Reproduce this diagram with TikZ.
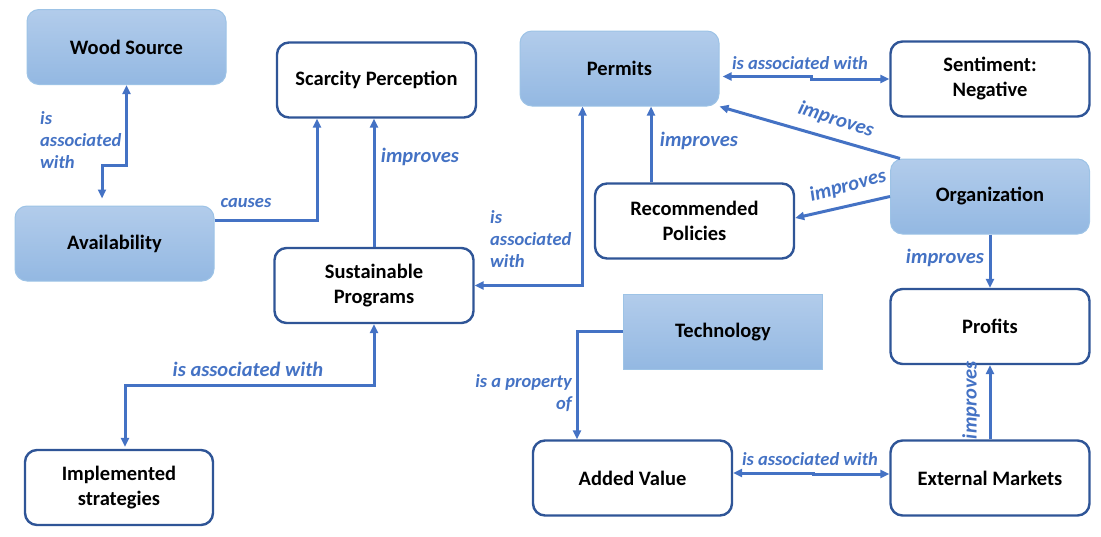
\documentclass[tikz,border=0pt]{standalone}
\usepackage{fontspec}
\setmainfont{Carlito}
\usetikzlibrary{arrows.meta,calc}
\definecolor{lineblue}{HTML}{4472C4}
\definecolor{boxborder}{HTML}{2F5597}
\definecolor{fillTop}{HTML}{B2CCEB}
\definecolor{fillBot}{HTML}{93B8E2}
\definecolor{fillborder}{HTML}{9DC3E6}
\begin{document}
\begin{tikzpicture}[x=1pt,y=-1pt,
 base/.style={minimum width=199pt, minimum height=75pt, align=center, font=\fontsize{20.5}{25}\selectfont\bfseries, inner sep=0pt},
 whitebox/.style={base, draw=boxborder, line width=2.4pt, rounded corners=12pt, fill=white},
 bluebox/.style={base, draw=fillborder, line width=1pt, rounded corners=12pt, top color=fillTop, bottom color=fillBot},
 conn/.style={draw=lineblue, line width=3pt, -{Triangle[length=9pt,width=8pt]}},
 biconn/.style={conn, {Triangle[length=9pt,width=8pt]}-{Triangle[length=9pt,width=8pt]}},
 lbl/.style={text=lineblue, font=\fontsize{18.5}{22}\selectfont\bfseries\itshape, inner sep=0pt},
 lblbig/.style={lbl, font=\fontsize{20.5}{24}\selectfont\bfseries\itshape},
]
\useasboundingbox (0,0) rectangle (1101,536);
\node[bluebox] (wood) at (126.5,47) {Wood Source};
\node[bluebox] (avail) at (114.5,243.5) {Availability};
\node[whitebox] (scar) at (376.5,80) {Scarcity Perception};
\node[whitebox] (sust) at (374,285.5) {Sustainable\\Programs};
\node[whitebox, minimum width=188pt] (impl) at (119,487.5) {Implemented\\strategies};
\node[bluebox] (perm) at (619.5,68.5) {Permits};
\node[whitebox] (sent) at (990,79) {Sentiment:\\Negative};
\node[whitebox] (rec) at (694.5,221) {Recommended\\Policies};
\node[bluebox] (org) at (990,196.5) {Organization};
\node[whitebox] (prof) at (990,326.5) {Profits};
\node[bluebox, rounded corners=0pt] (tech) at (723,332) {Technology};
\node[whitebox] (added) at (632.5,478) {Added Value};
\node[whitebox] (ext) at (990,478) {External Markets};

% connectors
\draw[biconn] (wood.south) |- ([xshift=-12.5pt,yshift=40pt]avail.north) -- ([xshift=-12.5pt,yshift=7pt]avail.north);
\node[lbl, align=left, anchor=west] (l1) at (40,140) {is\\associated\\with};

\draw[conn] ([yshift=23.5pt]avail.east) -| ([xshift=-59.5pt]scar.south);
\node[lbl] (l2) at (246,203) {causes};

\draw[conn] (sust.north) -- (sust.north |- scar.south);
\node[lblbig] (l3) at (420,157) {improves};

\draw[biconn] (sust.south) |- ([xshift=6pt,yshift=63pt]impl.north) -- ([xshift=6pt,yshift=2pt]impl.north);
\node[lblbig] (l13) at (248,369) {is associated with};

\draw[biconn] ([xshift=-37pt]perm.south) |- (sust.east);
\node[lbl, align=left, anchor=west] (l4) at (490,239) {is\\associated\\with};

\draw[conn] ([xshift=-43.5pt]rec.north) -- ([xshift=-43.5pt]rec.north |- perm.south);
\node[lblbig] (l5) at (699,141) {improves};

\draw[conn] ([xshift=10pt]org.north west) -- (perm.south east);
\node[lblbig, rotate=-18] (l6) at (836,120) {improves};

\draw[conn] (org.west) -- ([yshift=3pt]rec.east);
\node[lblbig, rotate=15] (l7) at (848,186) {improves};

\draw[conn] (org.south) -- (prof.north);
\node[lblbig] (l8) at (945,258) {improves};

\draw[biconn, shorten <=3pt] ([yshift=-8pt]perm.east) -- ++(92,0) |- (sent.west);
\node[lbl] (l9) at (800,63) {is associated with};

\draw[conn] ([yshift=1pt]tech.west) -| ([xshift=-55.5pt]added.north);
\node[lbl, align=right, anchor=east] (l10) at (572,393) {is a property\\of};

\draw[biconn] ([yshift=5pt]added.east) -- ++(80,0) |- ([yshift=4pt]ext.west);
\node[lbl] (l11) at (810,459) {is associated with};

\draw[conn] (ext.north) -- (prof.south);
\node[lblbig, rotate=90] (l12) at (971,400) {improves};
\end{tikzpicture}
\end{document}
